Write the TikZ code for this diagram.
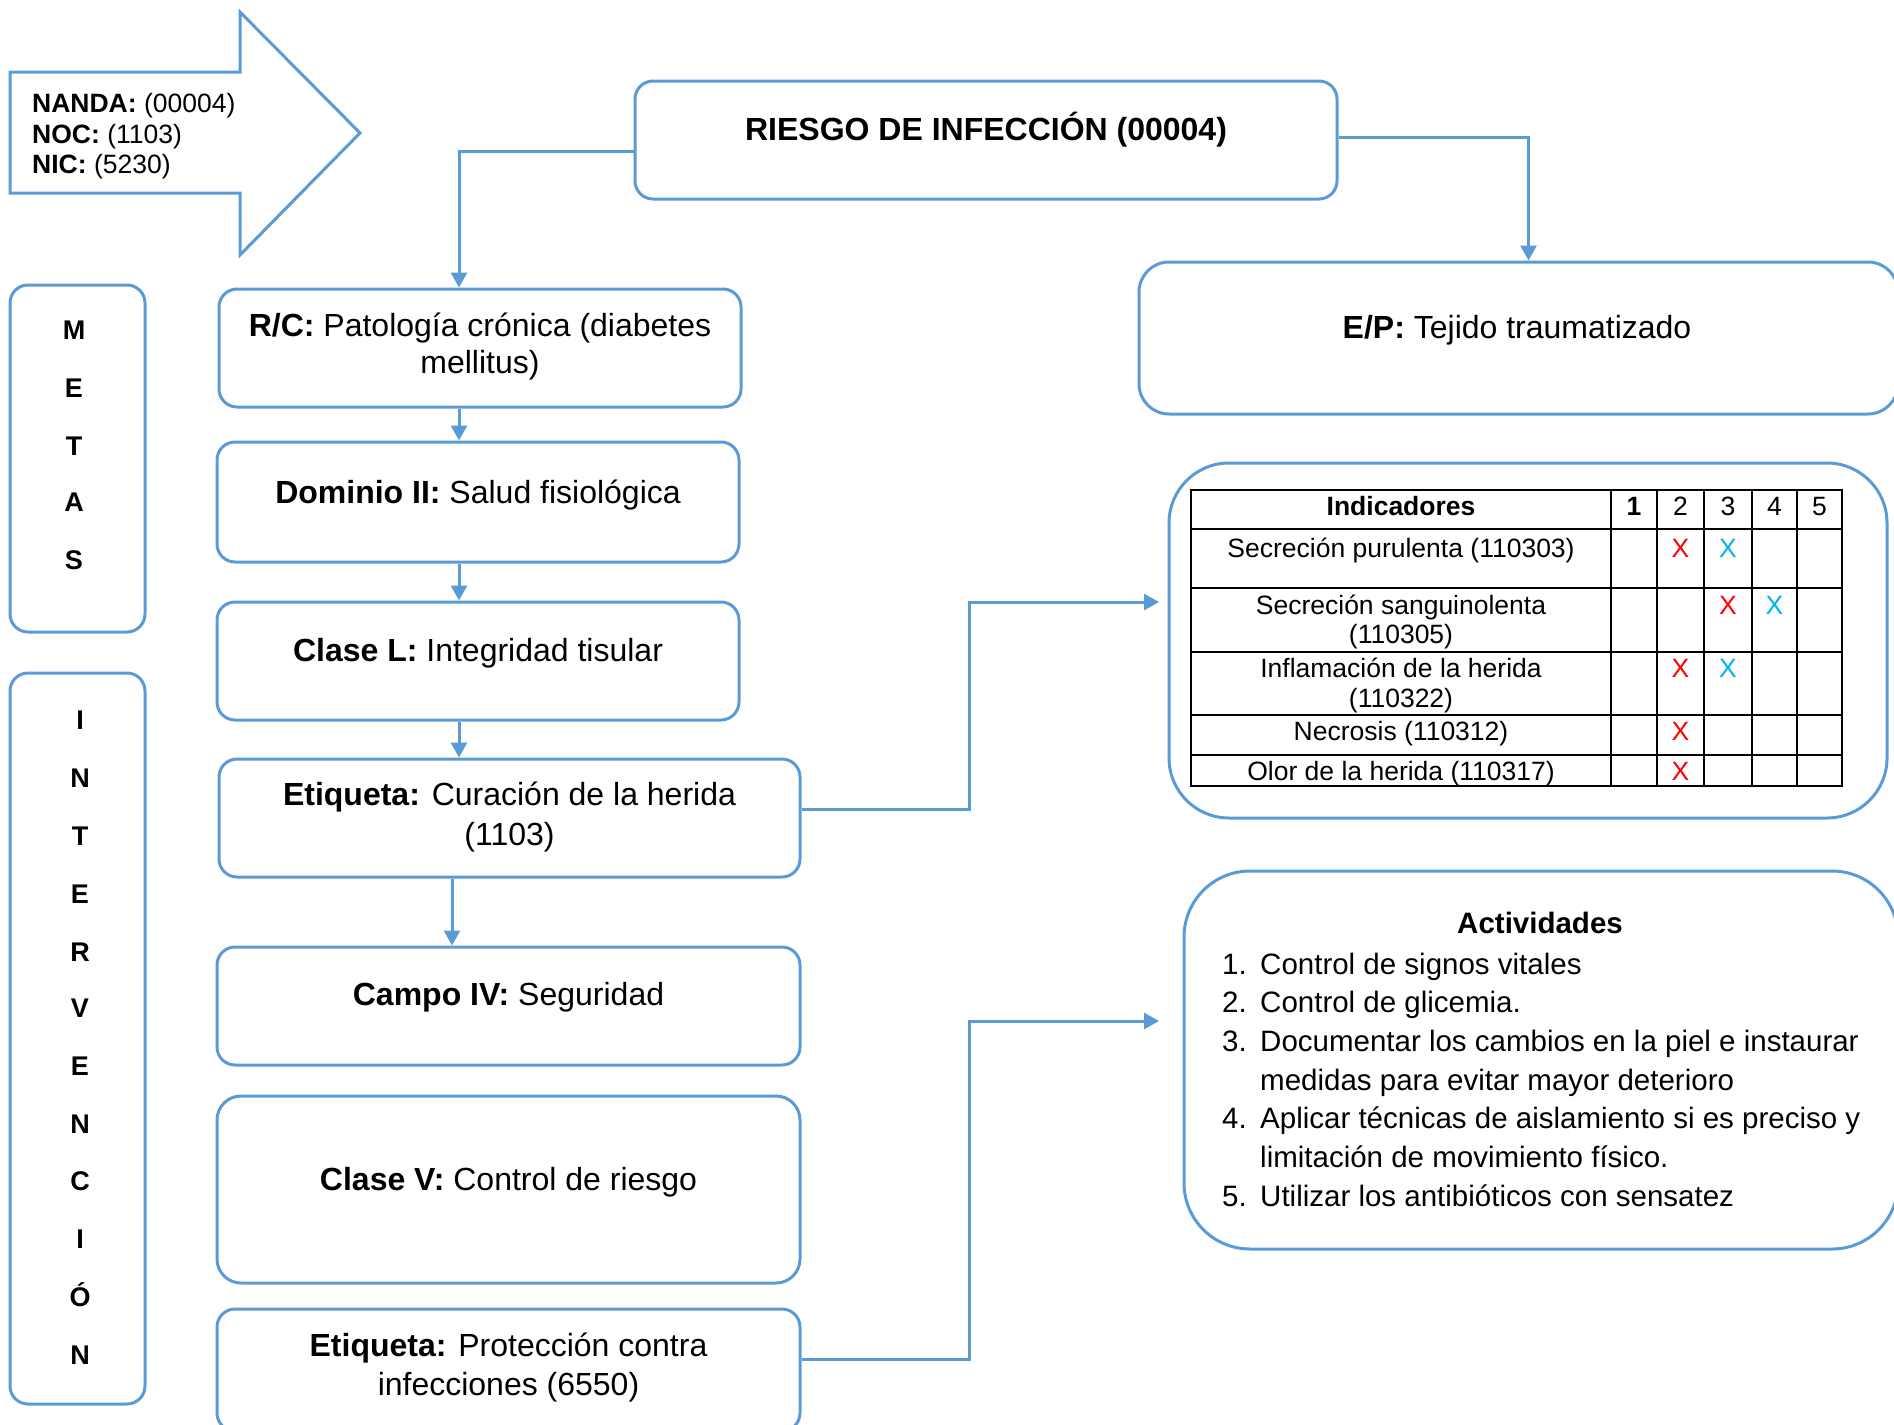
\documentclass[tikz,border=0pt]{standalone}
\usepackage{fontspec}
\setmainfont{Liberation Sans}
\usetikzlibrary{arrows.meta,calc}
\definecolor{lb}{RGB}{91,155,213}
\definecolor{xred}{RGB}{255,0,0}
\definecolor{xblue}{RGB}{0,176,240}
\begin{document}
\begin{tikzpicture}[x=1pt,y=-1pt,
  box/.style={draw=lb,line width=3pt,rounded corners=18pt,inner sep=0pt},
  conn/.style={draw=lb,line width=3pt,-{Triangle[length=15pt,width=16pt]}},
  tbig/.style={inner sep=0pt,anchor=base,font=\fontsize{32}{38}\selectfont},
  ttab/.style={inner sep=0pt,anchor=base,font=\fontsize{26.5}{30}\selectfont},
  tact/.style={inner sep=0pt,anchor=base west,font=\fontsize{29.5}{36}\selectfont},
  tnan/.style={inner sep=0pt,anchor=base west,font=\fontsize{26.5}{30}\selectfont},
  tlet/.style={inner sep=0pt,anchor=base,font=\fontsize{27}{30}\selectfont\bfseries},
  xr/.style={ttab,text=xred},
  xb/.style={ttab,text=xblue}]
\useasboundingbox (0,0) rectangle (1894,1424);

% big arrow
\draw[lb,line width=3pt] (10,72) -- (240,72) -- (240,12) -- (360,133) -- (240,255) -- (240,193) -- (10,193) -- cycle;
\node[tnan] (nanda) at (32,112) {\textbf{NANDA:} (00004)};
\node[tnan] (noc) at (32,143) {\textbf{NOC:} (1103)};
\node[tnan] (nic) at (32,173) {\textbf{NIC:} (5230)};

% boxes
\node[box,minimum width=702pt,minimum height=118pt] (ri) at (986,140) {};
\node[box,minimum width=522pt,minimum height=118pt] (rc) at (480,348) {};
\node[box,minimum width=522pt,minimum height=120pt] (dom) at (478,502) {};
\node[box,minimum width=522pt,minimum height=118pt] (cl) at (478,661) {};
\node[box,minimum width=581pt,minimum height=118pt] (et1) at (509.5,818) {};
\node[box,minimum width=583pt,minimum height=118pt] (ca) at (508.5,1006) {};
\node[box,minimum width=583pt,minimum height=187pt,rounded corners=24pt] (cv) at (508.5,1189.5) {};
\node[box,minimum width=583pt,minimum height=122pt] (et2) at (508.5,1370) {};
\node[box,minimum width=759pt,minimum height=152pt,rounded corners=30pt] (ep) at (1518.5,338) {};
\node[box,minimum width=718pt,minimum height=355pt,rounded corners=60pt] (tb) at (1528,640.5) {};
\node[box,minimum width=714pt,minimum height=378pt,rounded corners=66pt] (ac) at (1541,1060) {};
\node[box,minimum width=135pt,minimum height=347pt] (me) at (77.5,458.5) {};
\node[box,minimum width=135pt,minimum height=731pt] (in) at (77.5,1038.5) {};

% box texts
\node[tbig] (tri) at (986,140) {\textbf{RIESGO DE INFECCIÓN (00004)}};
\node[tbig] (trc1) at (480,336) {\textbf{R/C:} Patología crónica (diabetes};
\node[tbig] (trc2) at (480,373) {mellitus)};
\node[tbig] (tdom) at (478,503) {\textbf{Dominio II:} Salud fisiológica};
\node[tbig] (tcl) at (478,661) {\textbf{Clase L:} Integridad tisular};
\node[tbig] (tet1a) at (509.5,805) {\textbf{Etiqueta:} Curación de la herida};
\node[tbig] (tet1b) at (509.5,845) {(1103)};
\node[tbig] (tca) at (508.5,1005) {\textbf{Campo IV:} Seguridad};
\node[tbig] (tcv) at (508.5,1190) {\textbf{Clase V:} Control de riesgo};
\node[tbig] (tet2a) at (508.5,1356) {\textbf{Etiqueta:} Protección contra};
\node[tbig] (tet2b) at (508.5,1395) {infecciones (6550)};
\node[tbig] (tep) at (1517,338) {\textbf{E/P:} Tejido traumatizado};

% METAS
\foreach \l/\y [count=\i] in {M/339,E/397,T/455,A/511,S/569}
  \node[tlet] (m\i) at (74,\y) {\l};
% INTERVENCION
\foreach \l/\y [count=\i] in {I/729,N/787,T/845,E/903,R/961,V/1017,E/1075,N/1133,C/1190,I/1248,Ó/1306,N/1364}
  \node[tlet] (v\i) at (80,\y) {\l};

% connectors
\coordinate (xa) at (459,0);
\coordinate (xb) at (452,0);
\coordinate (xc) at (969,0);
\draw[conn] ([yshift=-11pt]ri.west) -| (rc.north -| xa);
\draw[conn] ([yshift=3pt]ri.east) -| ([xshift=10pt]ep.north);
\draw[conn] (rc.south -| xa) -- (dom.north -| xa);
\draw[conn] (dom.south -| xa) -- (cl.north -| xa);
\draw[conn] (cl.south -| xa) -- (et1.north -| xa);
\draw[conn] (et1.south -| xb) -- (ca.north -| xb);
\coordinate (ta) at (1159,602);
\coordinate (tc) at (1159,1021);
\draw[conn] ([yshift=9pt]et1.east) -| (ta -| xc) -- (ta);
\draw[conn] ([yshift=11pt]et2.east) -| (tc -| xc) -- (tc);

% table
\draw[line width=2.5pt] (1191,490) rectangle (1842,786);
\foreach \x in {1611,1657,1704,1752,1797}
  \draw[line width=2.5pt] (\x,490) -- (\x,786);
\foreach \y in {529,588,652,715,755}
  \draw[line width=2.5pt] (1191,\y) -- (1842,\y);
\node[ttab] (hd) at (1401,515.5) {\textbf{Indicadores}};
\node[ttab] (h1) at (1634,515.5) {\textbf{1}};
\node[ttab] (h2) at (1680.5,515.5) {2};
\node[ttab] (h3) at (1728,515.5) {3};
\node[ttab] (h4) at (1774.5,515.5) {4};
\node[ttab] (h5) at (1819.5,515.5) {5};
\node[ttab] (r1) at (1401,557.5) {Secreción purulenta (110303)};
\node[ttab] (r2a) at (1401,614.5) {Secreción sanguinolenta};
\node[ttab] (r2b) at (1401,643.5) {(110305)};
\node[ttab] (r3a) at (1401,677.5) {Inflamación de la herida};
\node[ttab] (r3b) at (1401,707.5) {(110322)};
\node[ttab] (r4) at (1401,740.5) {Necrosis (110312)};
\node[ttab] (r5) at (1401,780.5) {Olor de la herida (110317)};
\node[xr] (x12) at (1680.5,557.5) {X};
\node[xb] (x13) at (1728,557.5) {X};
\node[xr] (x23) at (1728,614.5) {X};
\node[xb] (x24) at (1774.5,614.5) {X};
\node[xr] (x32) at (1680.5,677.5) {X};
\node[xb] (x33) at (1728,677.5) {X};
\node[xr] (x42) at (1680.5,740.5) {X};
\node[xr] (x52) at (1680.5,780.5) {X};

% activities
\node[inner sep=0pt,anchor=base,font=\fontsize{29.5}{36}\selectfont] (act) at (1540,933.5) {\textbf{Actividades}};
\node[tact] (n1) at (1222,974) {1.};
\node[tact] (a1) at (1260,974) {Control de signos vitales};
\node[tact] (n2) at (1222,1012) {2.};
\node[tact] (a2) at (1260,1012) {Control de glicemia.};
\node[tact] (n3) at (1222,1051) {3.};
\node[tact] (a3) at (1260,1051) {Documentar los cambios en la piel e instaurar};
\node[tact] (a3b) at (1260,1090) {medidas para evitar mayor deterioro};
\node[tact] (n4) at (1222,1128) {4.};
\node[tact] (a4) at (1260,1128) {Aplicar técnicas de aislamiento si es preciso y};
\node[tact] (a4b) at (1260,1167) {limitación de movimiento físico.};
\node[tact] (n5) at (1222,1206) {5.};
\node[tact] (a5) at (1260,1206) {Utilizar los antibióticos con sensatez};
\end{tikzpicture}
\end{document}
